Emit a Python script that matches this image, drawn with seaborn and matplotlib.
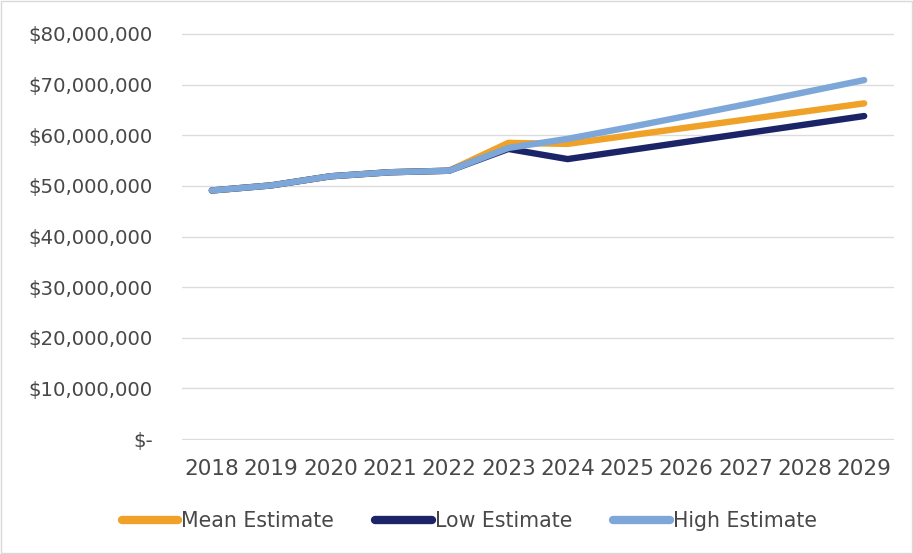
import matplotlib
matplotlib.use("Agg")
import matplotlib.pyplot as plt
import seaborn as sns
import pandas as pd
from matplotlib.ticker import FuncFormatter

years = ["2018", "2019", "2020", "2021", "2022", "2023", "2024", "2025", "2026", "2027", "2028", "2029"]
mean_est = [49.1, 50.1, 51.9, 52.7, 53.0, 58.5, 58.3, 59.9, 61.5, 63.1, 64.7, 66.3]
low_est = [49.1, 50.1, 51.9, 52.7, 53.0, 57.3, 55.3, 57.0, 58.7, 60.4, 62.1, 63.8]
high_est = [49.1, 50.1, 51.9, 52.7, 53.0, 57.5, 59.3, 61.5, 63.8, 66.1, 68.5, 70.9]
series_names = ["Mean Estimate", "Low Estimate", "High Estimate"]
colors = ["#F0A127", "#1C2468", "#7DA7D9"]

rows = []
for name, vals in zip(series_names, [mean_est, low_est, high_est]):
    for i, (y, v) in enumerate(zip(years, vals)):
        rows.append({"x": i, "Year": y, "Value": v * 1e6, "Series": name})
df = pd.DataFrame(rows)

sns.set_style("white")
plt.rcParams["font.family"] = ["DejaVu Sans"]

fig = plt.figure(figsize=(9.13, 5.54), dpi=100)
ax = fig.add_axes([0.1995, 0.206, 0.7795, 0.734])

sns.lineplot(data=df, x="x", y="Value", hue="Series", hue_order=series_names,
             palette=colors, linewidth=4.6, ax=ax, legend=True,
             solid_capstyle="round", solid_joinstyle="round")

ax.set_xlim(-0.5, 11.5)
ax.set_ylim(-0.15e6, 80.15e6)
ax.set_yticks([i * 10e6 for i in range(9)])
ax.set_xticks(range(len(years)))
ax.set_xticklabels(years)

def fmt(v, pos):
    if v == 0:
        return "$-"
    return "${:,.0f}".format(v)

ax.yaxis.set_major_formatter(FuncFormatter(fmt))
ax.grid(axis="y", color="#dcdcdc", linewidth=1)
ax.grid(axis="x", visible=False)
for s in ax.spines.values():
    s.set_visible(False)
ax.tick_params(axis="both", length=0, colors="#484848")
ax.tick_params(axis="y", pad=21, labelsize=14.2)
ax.tick_params(axis="x", pad=14, labelsize=15.5)
ax.set_xlabel("")
ax.set_ylabel("")

handles, labels = ax.get_legend_handles_labels()
leg = fig.legend(handles, labels, loc="center", bbox_to_anchor=(0.514, 0.06), ncol=3,
                 frameon=False, fontsize=14.8, handlelength=2.75, handletextpad=0.15,
                 columnspacing=2.0)
for t in leg.get_texts():
    t.set_color("#484848")
for h in leg.legend_handles:
    h.set_linewidth(6)
if ax.get_legend():
    ax.get_legend().remove()

fig.patches.append(plt.Rectangle((0.001, 0.001), 0.998, 0.998, transform=fig.transFigure,
                                 fill=False, edgecolor="#d9d9d9", linewidth=1))

fig.savefig("out.png", dpi=100)
